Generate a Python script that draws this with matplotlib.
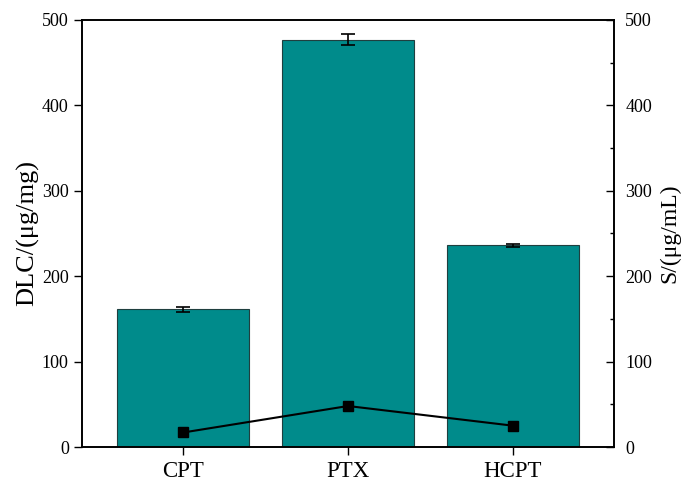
import matplotlib
matplotlib.use("Agg")
import matplotlib.pyplot as plt
import numpy as np
from matplotlib.ticker import MultipleLocator

plt.rcParams['font.family'] = ['Liberation Serif', 'DejaVu Serif']
plt.rcParams['mathtext.fontset'] = 'stix'

# data
drugs = ["CPT", "PTX", "HCPT"]
dlc = [161, 477, 236]
dlc_err = [2.5, 6, 1.5]
solubility = [17, 48, 25]

x = np.arange(len(drugs))

fig = plt.figure(figsize=(6.83, 4.82), dpi=100)
ax = fig.add_axes([0.12, 0.0726, 0.779, 0.886])

ax.bar(x, dlc, width=0.8, color='#008B8B', edgecolor='#1f3f3f', linewidth=0.8,
       yerr=dlc_err, capsize=5, error_kw=dict(elinewidth=1.2, capthick=1.2, ecolor='black'),
       zorder=2)
ax.set_xlim(-0.615, 2.615)
ax.set_ylim(0, 500)
ax.yaxis.set_major_locator(MultipleLocator(100))
ax.set_xticks(x)
ax.set_xticklabels(drugs, fontsize=16.5)
ax.tick_params(axis='y', direction='out', length=6, width=1, labelsize=13)
ax.tick_params(axis='x', direction='out', length=6, width=1, pad=4)
ax.set_ylabel("DLC/(μg/mg)", fontsize=19, labelpad=2)

ax2 = ax.twinx()
ax2.plot(x, solubility, color='black', marker='s', markersize=7, linewidth=1.5, zorder=3)
ax2.set_ylim(0, 500)
ax2.yaxis.set_major_locator(MultipleLocator(100))
ax2.yaxis.set_minor_locator(MultipleLocator(50))
ax2.tick_params(axis='y', which='major', direction='in', length=6, width=1, labelsize=13, pad=8)
ax2.tick_params(axis='y', which='minor', direction='in', length=3, width=1)
ax2.set_ylabel("S/(μg/mL)", fontsize=17, labelpad=5)

for a in (ax, ax2):
    for s in a.spines.values():
        s.set_linewidth(1.2)

fig.savefig("out.png", dpi=100)
